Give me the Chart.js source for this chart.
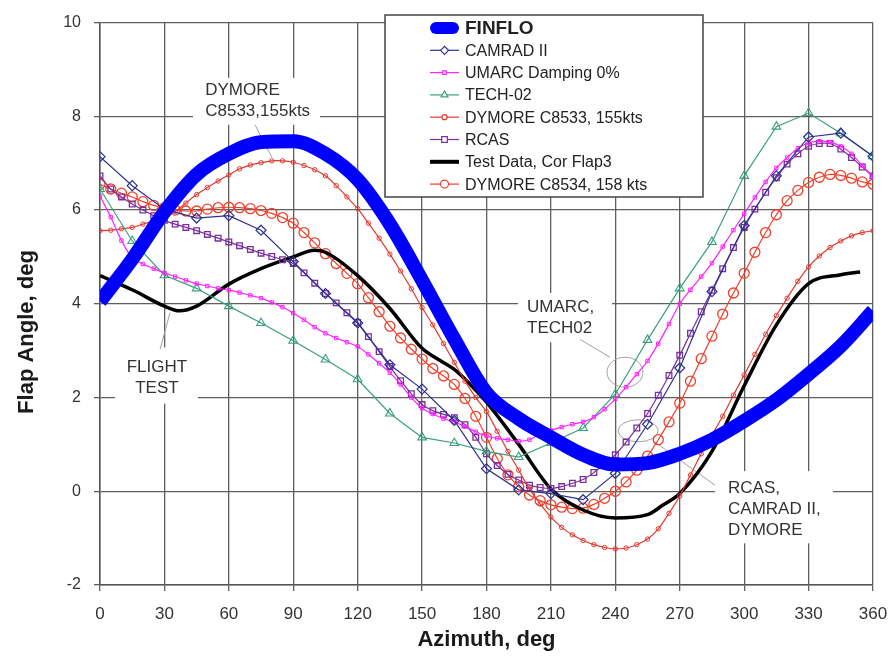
<!DOCTYPE html>
<html>
<head>
<meta charset="utf-8">
<script src="https://cdn.jsdelivr.net/npm/chart.js@4.4.1/dist/chart.umd.min.js"></script>
<style>
  html, body { margin: 0; padding: 0; background: #ffffff; }
  #wrap { width: 889px; height: 657px; }
</style>
</head>
<body>
<div id="wrap"><canvas id="c" width="889" height="657"></canvas></div>
<script>
// ---------------- DATA ----------------
const azimuth15 = [0,15,30,45,60,75,90,105,120,135,150,165,180,195,210,225,240,255,270,285,300,315,330,345,360];
const azimuth5 = [0,5,10,15,20,25,30,35,40,45,50,55,60,65,70,75,80,85,90,95,100,105,110,115,120,125,130,135,140,145,150,155,160,165,170,175,180,185,190,195,200,205,210,215,220,225,230,235,240,245,250,255,260,265,270,275,280,285,290,295,300,305,310,315,320,325,330,335,340,345,350,355,360];

const finflo   = [4.05,4.95,5.96,6.76,7.2,7.45,7.47,7.2,6.65,5.7,4.5,3.25,2.1,1.55,1.15,0.78,0.57,0.6,0.8,1.1,1.5,1.95,2.5,3.1,3.85];
const camrad2  = [7.14,6.52,6.02,5.83,5.88,5.57,4.9,4.22,3.59,2.7,2.18,1.51,0.48,0.03,-0.05,-0.18,0.38,1.43,2.63,4.26,5.67,6.73,7.56,7.64,7.15];
const tech02   = [6.45,5.34,4.61,4.33,3.95,3.59,3.21,2.81,2.39,1.66,1.15,1.03,0.85,0.73,1.03,1.35,2.07,3.23,4.33,5.32,6.73,7.78,8.07,7.64,7.15];

const umarc = [6.3,5.85,5.35,4.98,4.85,4.75,4.66,4.58,4.5,4.43,
  4.38,4.33,4.29,4.24,4.18,4.12,4.03,3.93,3.8,3.66,
  3.5,3.37,3.27,3.18,3.09,2.92,2.73,2.53,2.28,2.0,
  1.77,1.65,1.55,1.48,1.38,1.27,1.18,1.13,1.1,1.07,
  1.1,1.22,1.3,1.37,1.43,1.48,1.58,1.75,1.97,2.22,
  2.5,2.78,3.15,3.57,4.0,4.3,4.58,4.87,5.22,5.57,
  5.92,6.27,6.6,6.9,7.12,7.32,7.43,7.47,7.45,7.36,
  7.2,6.95,6.7];
const dymore8533 = [5.56,5.57,5.6,5.63,5.7,5.77,5.86,5.97,6.15,6.33,
  6.48,6.62,6.75,6.88,6.96,7.01,7.05,7.05,7.02,6.95,
  6.86,6.73,6.52,6.28,6.03,5.72,5.4,5.06,4.7,4.32,
  3.92,3.55,3.15,2.75,2.35,2.0,1.7,1.28,0.85,0.45,
  0.05,-0.27,-0.55,-0.77,-0.93,-1.05,-1.14,-1.2,-1.23,-1.21,
  -1.14,-1.02,-0.8,-0.47,-0.1,0.35,0.8,1.2,1.6,2.05,
  2.48,2.92,3.35,3.75,4.12,4.48,4.79,5.02,5.2,5.34,
  5.45,5.52,5.56];
const rcas = [6.73,6.45,6.28,6.13,6.0,5.88,5.78,5.7,5.63,5.56,
  5.48,5.4,5.32,5.24,5.16,5.08,5.01,4.94,4.86,4.66,
  4.44,4.22,4.02,3.81,3.6,3.3,2.98,2.66,2.36,2.08,
  1.85,1.72,1.64,1.57,1.42,1.15,0.8,0.55,0.36,0.24,
  0.13,0.08,0.06,0.1,0.17,0.25,0.4,0.58,0.78,1.05,
  1.35,1.66,2.05,2.47,2.9,3.37,3.83,4.29,4.75,5.2,
  5.63,6.02,6.38,6.69,6.98,7.2,7.36,7.42,7.42,7.3,
  7.12,6.92,6.73];
const dymore8534 = [6.55,6.45,6.36,6.28,6.18,6.1,6.05,6.0,5.98,5.98,
  6.02,6.05,6.06,6.05,6.03,5.99,5.93,5.84,5.72,5.52,
  5.3,5.07,4.86,4.65,4.43,4.13,3.83,3.52,3.27,3.03,
  2.82,2.62,2.46,2.28,1.98,1.6,1.15,0.7,0.35,0.1,
  -0.08,-0.2,-0.29,-0.34,-0.37,-0.36,-0.28,-0.15,0.0,0.2,
  0.45,0.75,1.1,1.48,1.88,2.35,2.83,3.31,3.78,4.23,
  4.65,5.1,5.52,5.9,6.2,6.42,6.59,6.7,6.76,6.74,
  6.68,6.6,6.55];

const testAzimuth = [0,15,30,37,45,60,75,90,100,105,120,135,150,158,165,172,180,195,210,225,240,255,262,270,285,300,315,330,345,354];
const testData    = [4.6,4.3,3.95,3.85,3.95,4.42,4.75,5.0,5.14,5.1,4.6,3.9,3.05,2.8,2.6,2.3,1.9,1.0,0.05,-0.4,-0.57,-0.5,-0.3,-0.05,0.85,2.25,3.55,4.43,4.62,4.68];

const xTicks = [0,30,60,90,120,150,180,210,240,270,300,330,360];
const yTicks = [-2,0,2,4,6,8,10];

const seriesNames = ['FINFLO','CAMRAD II','UMARC Damping 0%','TECH-02','DYMORE C8533, 155kts','RCAS','Test Data, Cor Flap3','DYMORE C8534, 158 kts'];

// annotations (text, anchor in data units)
const notes = [
  { lines: ['DYMORE','C8533,155kts'], az: 49, val: 8.55, align: 'left',
    box: [43.3, 8.82, 102.5, 7.82], pointer: [[72.2, 7.82],[80.1, 7.12]] },
  { lines: ['FLIGHT','TEST'], az: 26.5, val: 2.65, align: 'center',
    box: [7, 3.07, 45.6, 1.87], pointer: [[28, 3.03],[32.6, 3.81]] },
  { lines: ['UMARC,','TECH02'], az: 198.9, val: 3.93, align: 'left',
    box: [194.7, 4.23, 238.5, 3.18], pointer: [[223.6, 3.24],[237.5, 2.86]], ellipse: [244.5, 2.54, 18, 15] },
  { lines: ['RCAS,','CAMRAD II,','DYMORE'], az: 292.5, val: 0.06, align: 'left',
    box: [286.4, 0.43, 341.4, -1.11], pointer: [[286.4, 0.13],[257.5, 1.08]], ellipse: [250.6, 1.29, 20, 11] }
];

// ---------------- helpers ----------------
function pairs(xs, ys) { return xs.map((x, i) => ({ x: x, y: ys[i] })); }

const C_FIN = '#0000ff', C_CAM = '#2e3192', C_UMA = '#ff22ff', C_TEC = '#3aa07c',
      C_D33 = '#e2382e', C_RCA = '#7a2f9e', C_TST = '#000000', C_D34 = '#f0402a';

const datasets = [
  { label: seriesNames[0], data: pairs(azimuth15, finflo), borderColor: C_FIN, borderWidth: 14,
    pointRadius: 0, cubicInterpolationMode: 'monotone', borderCapStyle: 'butt' },
  { label: seriesNames[1], data: pairs(azimuth15, camrad2), borderColor: C_CAM, borderWidth: 1.2,
    pointStyle: 'rectRot', pointRadius: 5, pointBorderWidth: 1.2, pointBorderColor: C_CAM, pointBackgroundColor: 'rgba(255,255,255,0)', tension: 0 },
  { label: seriesNames[2], data: pairs(azimuth5, umarc), borderColor: C_UMA, borderWidth: 1.2,
    pointStyle: 'rect', pointRadius: 2.4, pointBorderWidth: 1, pointBorderColor: C_UMA, pointBackgroundColor: 'rgba(255,255,255,0)', tension: 0.3 },
  { label: seriesNames[3], data: pairs(azimuth15, tech02), borderColor: C_TEC, borderWidth: 1.2,
    pointStyle: 'triangle', pointRadius: 5, pointBorderWidth: 1.1, pointBorderColor: C_TEC, pointBackgroundColor: 'rgba(255,255,255,0)', tension: 0 },
  { label: seriesNames[4], data: pairs(azimuth5, dymore8533), borderColor: C_D33, borderWidth: 1.2,
    pointStyle: 'circle', pointRadius: 2.2, pointBorderWidth: 1, pointBorderColor: C_D33, pointBackgroundColor: 'rgba(255,255,255,0)', tension: 0.3 },
  { label: seriesNames[5], data: pairs(azimuth5, rcas), borderColor: C_RCA, borderWidth: 1.2,
    pointStyle: 'rect', pointRadius: 4, pointBorderWidth: 1.3, pointBorderColor: C_RCA, pointBackgroundColor: 'rgba(255,255,255,0)', tension: 0.3 },
  { label: seriesNames[6], data: pairs(testAzimuth, testData), borderColor: C_TST, borderWidth: 3.5,
    pointRadius: 0, cubicInterpolationMode: 'monotone' },
  { label: seriesNames[7], data: pairs(azimuth5, dymore8534), borderColor: C_D34, borderWidth: 1.2,
    pointStyle: 'circle', pointRadius: 5, pointBorderWidth: 1.3, pointBorderColor: C_D34, pointBackgroundColor: 'rgba(255,255,255,0)', tension: 0.3 }
];

const decorPlugin = {
  id: 'decor',
  beforeDatasetsDraw(chart) {
    const ctx = chart.ctx, xs = chart.scales.x, ys = chart.scales.y;
    const px = v => xs.getPixelForValue(v), py = v => ys.getPixelForValue(v);
    ctx.save();
    ctx.fillStyle = '#ffffff';
    notes.forEach(n => {
      const b = n.box;
      ctx.fillRect(px(b[0]), py(b[1]), px(b[2]) - px(b[0]), py(b[3]) - py(b[1]));
    });
    ctx.strokeStyle = '#a0a0a0';
    ctx.lineWidth = 1;
    notes.forEach(n => {
      ctx.beginPath();
      ctx.moveTo(px(n.pointer[0][0]), py(n.pointer[0][1]));
      ctx.lineTo(px(n.pointer[1][0]), py(n.pointer[1][1]));
      ctx.stroke();
      if (n.ellipse) {
        ctx.beginPath();
        ctx.ellipse(px(n.ellipse[0]), py(n.ellipse[1]), n.ellipse[2], n.ellipse[3], 0, 0, Math.PI * 2);
        ctx.stroke();
      }
    });
    ctx.fillStyle = '#333333';
    ctx.font = '17px Arial, "Liberation Sans", sans-serif';
    ctx.textBaseline = 'middle';
    notes.forEach(n => {
      ctx.textAlign = n.align;
      n.lines.forEach((t, i) => ctx.fillText(t, px(n.az), py(n.val) + i * 21));
    });
    ctx.restore();
  },
  afterDraw(chart) {
    const ctx = chart.ctx, area = chart.chartArea;
    ctx.save();
    ctx.fillStyle = '#1a1a1a';
    ctx.font = 'bold 22px Arial, "Liberation Sans", sans-serif';
    ctx.textAlign = 'center';
    ctx.textBaseline = 'middle';
    ctx.fillText('Azimuth, deg', (area.left + area.right) / 2, 640);
    ctx.save();
    ctx.translate(27, 332);
    ctx.rotate(-Math.PI / 2);
    ctx.fillText('Flap Angle, deg', 0, 0);
    ctx.restore();

    const L = area.left + 285, T = 15, W = 318, H = 182;
    ctx.fillStyle = '#ffffff';
    ctx.fillRect(L, T, W, H);
    ctx.strokeStyle = '#444444';
    ctx.lineWidth = 1.5;
    ctx.strokeRect(L, T, W, H);

    const sx0 = L + 45, sx1 = L + 74, tx = L + 80;
    const rowY = i => T + 13 + i * 22.3;
    chart.data.datasets.forEach((ds, i) => {
      const y = rowY(i);
      ctx.save();
      ctx.strokeStyle = ds.borderColor;
      if (i === 0) {
        ctx.lineWidth = 12;
        ctx.lineCap = 'round';
        ctx.beginPath(); ctx.moveTo(sx0 + 6, y); ctx.lineTo(sx1 - 6, y); ctx.stroke();
      } else {
        ctx.lineWidth = (i === 6) ? 4 : 1.2;
        ctx.beginPath(); ctx.moveTo(sx0, y); ctx.lineTo(sx1, y); ctx.stroke();
        if (ds.pointRadius > 0) {
          ctx.fillStyle = '#ffffff';
          ctx.strokeStyle = ds.pointBorderColor;
          Chart.helpers.drawPoint(ctx, { pointStyle: ds.pointStyle, rotation: 0, radius: Math.min(Math.max(ds.pointRadius, 2.5), 4), borderWidth: ds.pointBorderWidth }, (sx0 + sx1) / 2, y);
        }
      }
      ctx.restore();
      ctx.fillStyle = '#222222';
      ctx.textAlign = 'left';
      ctx.textBaseline = 'middle';
      ctx.font = i === 0 ? 'bold 19px Arial, "Liberation Sans", sans-serif' : '16px Arial, "Liberation Sans", sans-serif';
      ctx.fillText(ds.label, tx, y + 1);
    });
    ctx.restore();
  }
};

new Chart(document.getElementById('c'), {
  type: 'line',
  data: { datasets: datasets },
  options: {
    responsive: false,
    animation: false,
    devicePixelRatio: 1,
    events: [],
    layout: { padding: { top: 17, right: 0, left: 0, bottom: 0 } },
    plugins: { legend: { display: false }, tooltip: { enabled: false } },
    scales: {
      x: {
        type: 'linear', min: 0, max: 360,
        afterFit: s => { s.height = 72; s.paddingRight = 16; },
        afterBuildTicks: s => { s.ticks = xTicks.map(v => ({ value: v })); },
        ticks: { color: '#333333', font: { size: 17, family: 'Arial, "Liberation Sans", sans-serif' }, padding: 13, maxRotation: 0 },
        grid: { color: '#5f5f5f', lineWidth: 1.3, tickLength: 6, tickColor: '#5f5f5f' },
        border: { color: '#555555', width: 1.5 }
      },
      y: {
        type: 'linear', min: -2, max: 10,
        afterFit: s => { s.width = 100; },
        afterBuildTicks: s => { s.ticks = yTicks.map(v => ({ value: v })); },
        ticks: { color: '#333333', font: { size: 16, family: 'Arial, "Liberation Sans", sans-serif' }, padding: 13 },
        grid: { color: '#5f5f5f', lineWidth: 1.3, tickLength: 6, tickColor: '#5f5f5f' },
        border: { color: '#555555', width: 1.5 }
      }
    }
  },
  plugins: [decorPlugin]
});
</script>
</body>
</html>
